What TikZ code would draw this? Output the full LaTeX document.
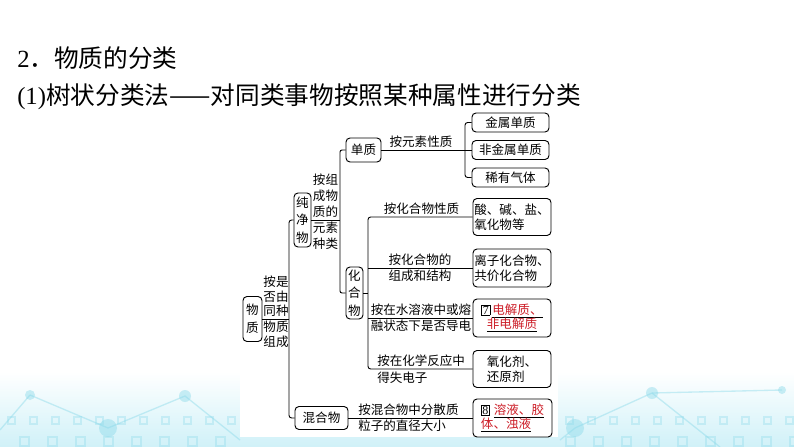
\documentclass[tikz,border=0pt]{standalone}
\usepackage{fontspec}
\setmainfont{Liberation Serif}
\newfontfamily\cjk{Noto Sans CJK SC}
\usetikzlibrary{calc}
\definecolor{redtxt}{RGB}{205,30,40}
\definecolor{bgcyan}{RGB}{208,241,248}
\definecolor{dotcyan}{RGB}{140,218,234}
\newcommand\dfont{\cjk\fontsize{9.4}{11}\selectfont}
\newcommand\vfont{\cjk\fontsize{9.4}{13.3}\selectfont}
\newcommand\numbox[1]{{\fboxsep=0.6pt\fboxrule=0.5pt\fbox{\rmfamily\fontsize{9}{9}\selectfont #1}}}
\newcommand\redul[1]{\underline{\textcolor{redtxt}{#1}}}
\begin{document}
\begin{tikzpicture}[x=0.75pt,y=-0.75pt,
  box/.style={draw, line width=0.7pt, rounded corners=3pt, inner sep=0pt, font=\dfont, align=center},
  vertbox/.style={box, font=\vfont},
  lab/.style={inner sep=0pt, font=\dfont, align=center},
  conn/.style={line width=0.7pt},
  titletext/.style={inner sep=0pt, anchor=west, font=\fontsize{18.5}{22}\selectfont},
  deco/.style={fill=dotcyan, opacity=0.45},
  decoline/.style={draw=dotcyan, opacity=0.45, line width=1pt},
  decosq/.style={draw=dotcyan, opacity=0.35, line width=0.8pt}]
\useasboundingbox (0,0) rectangle (794,447);
% background
\fill[white] (0,0) rectangle (794,447);
\shade[top color=white, bottom color=bgcyan] (0,372) rectangle (794,447);
\foreach \x in {8,30,...,230} {\draw[decosq] (\x,417) rectangle ++(7,7);}
\foreach \x in {566,588,...,790} {\draw[decosq] (\x,417) rectangle ++(7,7);}
\foreach \x in {20,48,...,230} {\draw[decosq] (\x,437) rectangle ++(9,9);}
\foreach \x in {566,594,...,790} {\draw[decosq] (\x,437) rectangle ++(9,9);}
\draw[decoline] (30,395) -- (108,428) -- (185,396) -- (240,440);
\draw[decoline] (0,430) -- (30,395);
\draw[decoline] (560,440) -- (575,428) -- (652,393) -- (782,390);
\draw[decoline] (652,393) -- (720,447);
\fill[deco] (30,395) circle (5);
\fill[deco] (108,428) circle (9);
\fill[deco] (185,396) circle (6);
\fill[deco] (575,428) circle (9);
\fill[deco] (652,393) circle (6);
\fill[deco] (782,390) circle (4);
\fill[white] (240,105) rectangle (558,437);

% titles
\node[titletext] (h1) at (17,58) {2\cjk ．物质的分类};
\node[titletext] (h2) at (17,97) {(1)\cjk 树状分类法——对同类事物按照某种属性进行分类};

% boxes
\node[vertbox, minimum width=14.25pt, minimum height=33.75pt] (wuzhi) at (252.5,319) {物\\质};
\node[vertbox, minimum width=12.75pt, minimum height=40.5pt] (chunjing) at (302.5,220) {纯\\净\\物};
\node[box, minimum width=39.75pt, minimum height=17.25pt] (hunhe) at (321.5,418) {混合物};
\node[box, minimum width=26.25pt, minimum height=18pt] (danzhi) at (363.5,150) {单质};
\node[vertbox, minimum width=12.75pt, minimum height=39pt] (huahe) at (354.5,293) {化\\合\\物};
\node[box, minimum width=57.75pt, minimum height=14.25pt] (jin) at (510.5,122.5) {金属单质};
\node[box, minimum width=57.75pt, minimum height=14.25pt] (feijin) at (510.5,150) {非金属单质};
\node[box, minimum width=57.75pt, minimum height=14.25pt] (xiyou) at (510.5,177.5) {稀有气体};
\node[box, align=left, minimum width=58.5pt, minimum height=27.75pt] (b1) at (512,217) {酸、碱、盐、\\氧化物等};
\node[box, align=left, minimum width=58.5pt, minimum height=28.5pt] (b2) at (512,268) {离子化合物、\\共价化合物};
\node[box, minimum width=58.5pt, minimum height=28.5pt] (b3) at (512,318) {\numbox{7}\hspace{1.5pt}\redul{电解质、}\\\redul{非电解质}};
\node[box, align=left, minimum width=58.5pt, minimum height=27.75pt] (b4) at (512,369) {氧化剂、\\还原剂};
\node[box, align=left, minimum width=59.25pt, minimum height=28.5pt] (b5) at (512.5,418) {\numbox{8}\hspace{3pt}\redul{溶液、胶}\\\redul{体、浊液}};

% labels
\node[lab, anchor=south, font=\cjk\fontsize{9.4}{10.8}\selectfont] (l0a) at (276,317) {按是\\否由\\同种};
\node[lab, anchor=north, font=\cjk\fontsize{9.4}{10.8}\selectfont] (l0b) at (276,321) {物质\\组成};
\node[lab, anchor=south, font=\cjk\fontsize{9.4}{12}\selectfont] (l1a) at (325.5,218) {按组\\成物\\质的};
\node[lab, anchor=north, font=\cjk\fontsize{9.4}{12}\selectfont] (l1b) at (325.5,222) {元素\\种类};
\node[lab, anchor=south] (l2) at (421,148) {按元素性质};
\node[lab, anchor=south] (l3) at (421.5,215) {按化合物性质};
\node[lab, anchor=south] (l4a) at (420,266) {按化合物的};
\node[lab, anchor=north] (l4b) at (420,270) {组成和结构};
\node[lab, anchor=south] (l5a) at (421,316) {按在水溶液中或熔};
\node[lab, anchor=north] (l5b) at (421,320) {融状态下是否导电};
\node[lab, anchor=south west] (l6a) at (377,367) {按在化学反应中};
\node[lab, anchor=north west] (l6b) at (377,372) {得失电子};
\node[lab, anchor=south west] (l7a) at (358,416) {按混合物中分散质};
\node[lab, anchor=north west] (l7b) at (358,420) {粒子的直径大小};

% junction points
\coordinate (t1) at (289,220); \coordinate (t2) at (289,418); \coordinate (tm) at (289,319);
\coordinate (s1) at (340,150); \coordinate (s2) at (340,293); \coordinate (sm) at (340,220);
\coordinate (u1) at (465,122.5); \coordinate (u2) at (465,177.5);
\coordinate (v1) at (368,217); \coordinate (v2) at (368,268); \coordinate (v3) at (368,318);
\coordinate (v4) at (368,369); \coordinate (vm) at (368,293);

% connectors
\draw[conn, rounded corners=2pt] (chunjing.west) -- (t1) -- (t2) -- (hunhe.west);
\draw[conn] (wuzhi.east) -- (tm);
\draw[conn, rounded corners=1.5pt] (danzhi.west) -- (s1) -- (s2) -- (huahe.west);
\draw[conn] (chunjing.east) -- (sm);
\draw[conn, rounded corners=2pt] (jin.west) -- (u1) -- (u2) -- (xiyou.west);
\draw[conn] (danzhi.east) -- (feijin.west);
\draw[conn, rounded corners=2pt] (b1.west) -- (v1) -- (v4) -- (b4.west);
\draw[conn] (v2) -- (b2.west);
\draw[conn] (v3) -- (b3.west);
\draw[conn] (huahe.east) -- (vm);
\draw[conn] (hunhe.east) -- (b5.west);
\end{tikzpicture}
\end{document}
